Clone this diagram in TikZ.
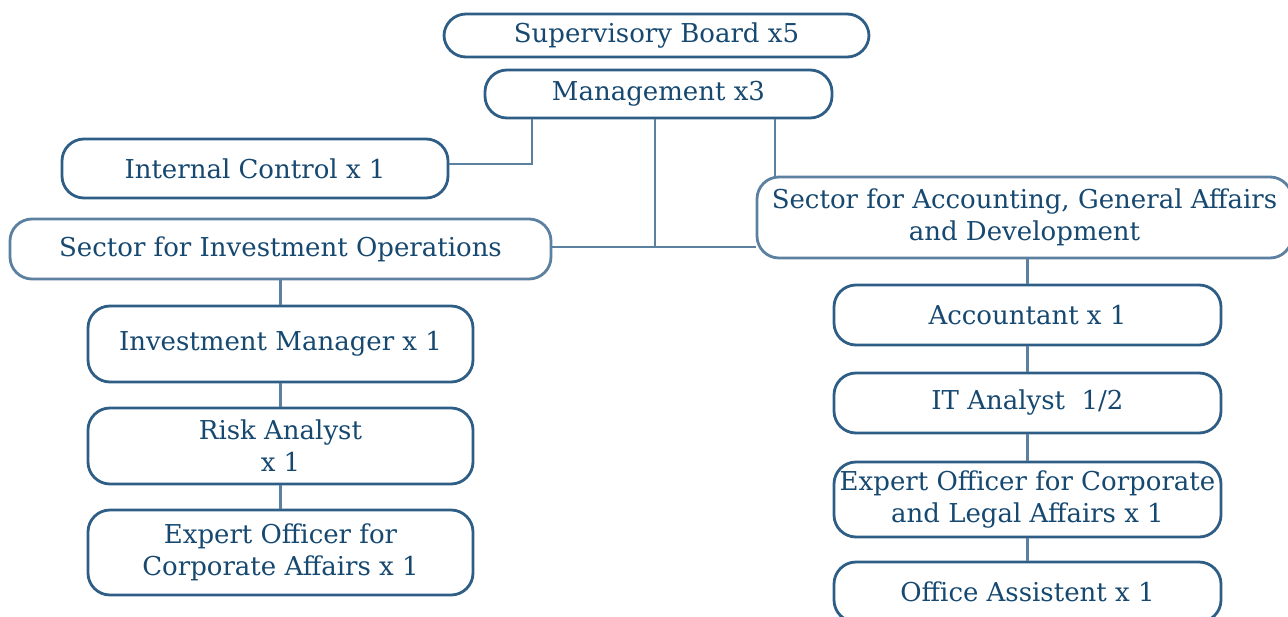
\documentclass[tikz,border=0pt]{standalone}
\usepackage{fontspec}
\setmainfont{DejaVu Serif}
\definecolor{boxdark}{RGB}{46,94,133}
\definecolor{boxlight}{RGB}{91,128,160}
\definecolor{txt}{RGB}{22,72,112}
\begin{document}
\begin{tikzpicture}[x=1pt,y=-1pt,
  box/.style={draw=boxdark, line width=2.8pt, rounded corners=22pt, text=txt, align=center, inner sep=0pt,
    font=\fontsize{26}{32}\selectfont},
  sectorbox/.style={box, draw=boxlight},
  link/.style={draw=boxlight, line width=2.6pt}]
\useasboundingbox (0,0) rectangle (1288,616);
\node[box, minimum width=425pt, minimum height=43pt] (sb) at (656.5,35.5) {Supervisory Board x5};
\node[box, minimum width=347pt, minimum height=48pt] (mg) at (658.5,94) {Management x3};
\node[box, minimum width=386pt, minimum height=59pt] (ic) at (255,168.5) {Internal Control x 1};
\node[sectorbox, minimum width=541pt, minimum height=60pt] (sio) at (280.5,249) {Sector for Investment Operations};
\node[sectorbox, minimum width=535pt, minimum height=81pt] (sag) at (1024.5,217.5) {Sector for Accounting, General Affairs\\and Development};
\node[box, minimum width=385pt, minimum height=76pt] (im) at (280.5,344) {Investment Manager x 1};
\node[box, minimum width=385pt, minimum height=76pt] (ra) at (280.5,446) {Risk Analyst\\x 1};
\node[box, minimum width=385pt, minimum height=85pt] (eo) at (280.5,552.5) {Expert Officer for\\Corporate Affairs x 1};
\node[box, minimum width=387pt, minimum height=60pt] (acc) at (1027.5,315) {Accountant x 1};
\node[box, minimum width=387pt, minimum height=60pt] (ita) at (1027.5,403) {IT Analyst\ \ 1/2};
\node[box, minimum width=387pt, minimum height=75pt] (eol) at (1027.5,499.5) {Expert Officer for Corporate\\and Legal Affairs x 1};
\node[box, minimum width=387pt, minimum height=60pt] (oa) at (1027.5,592) {Office Assistent x 1};
\coordinate (j) at (655,247);
\draw[link] (mg.south -| 532,0) |- (ic.east |- 0,164);
\draw[link] (mg.south -| j) -- (j);
\draw[link] (sio.east |- j) -- (sag.west |- j);
\draw[link] (mg.south -| 775,0) -- (sag.north -| 775,0);
\draw[link] (sio.south) -- (im.north);
\draw[link] (im.south) -- (ra.north);
\draw[link] (ra.south) -- (eo.north);
\draw[link] (sag.south -| acc) -- (acc.north);
\draw[link] (acc.south) -- (ita.north);
\draw[link] (ita.south) -- (eol.north);
\draw[link] (eol.south) -- (oa.north);
\end{tikzpicture}
\end{document}
